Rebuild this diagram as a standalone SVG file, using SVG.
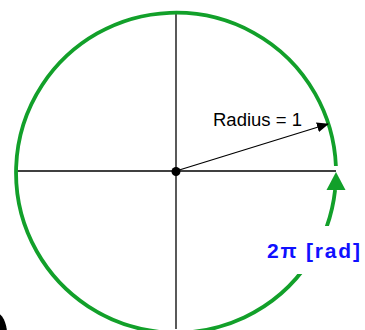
<svg xmlns="http://www.w3.org/2000/svg" width="365" height="330" viewBox="0 0 365 330">
  <style>
    .axis { stroke: #000; stroke-width: 1.3; fill: none; }
    .circ { stroke: #12a02a; stroke-width: 3.8; fill: none; }
    .lbl { font-family: "Liberation Sans", Arial, sans-serif; }
  </style>
  <defs>
    <marker id="arrowBlack" viewBox="0 0 12 10" refX="11" refY="5" markerWidth="12" markerHeight="10" markerUnits="userSpaceOnUse" orient="auto">
      <path d="M0,0 L12,5 L0,10 Z" fill="#000"/>
    </marker>
  </defs>
  <rect width="365" height="330" fill="#fff"/>
  <g id="axes">
    <line class="axis" x1="176" y1="12" x2="176" y2="329"/>
    <line class="axis" x1="17" y1="171" x2="336" y2="171"/>
  </g>
  <g id="circle">
    <path class="circ" d="M335.9,166 A160,160 0 1 0 335.1,190"/>
    <polygon points="336,172 326.5,190 345.5,190" fill="#12a02a"/>
  </g>
  <g id="connectors">
    <line x1="176" y1="171" x2="328" y2="124" stroke="#000" stroke-width="1.3" marker-end="url(#arrowBlack)"/>
  </g>
  <g id="center">
    <circle cx="176" cy="171.5" r="4.5" fill="#000"/>
  </g>
  <g id="radius-label">
    <text class="lbl" x="213" y="126" font-size="17.5" fill="#000" textLength="89" lengthAdjust="spacingAndGlyphs">Radius = 1</text>
  </g>
  <g id="angle-label">
    <rect x="262" y="226" width="103" height="48" fill="#fff"/>
    <text class="lbl" x="267" y="258" font-size="21" font-weight="bold" fill="#1010ff" textLength="93" lengthAdjust="spacing">2π [rad]</text>
  </g>
  <g id="blob">
    <ellipse cx="-4" cy="334" rx="11" ry="21" fill="#000"/>
  </g>
</svg>
